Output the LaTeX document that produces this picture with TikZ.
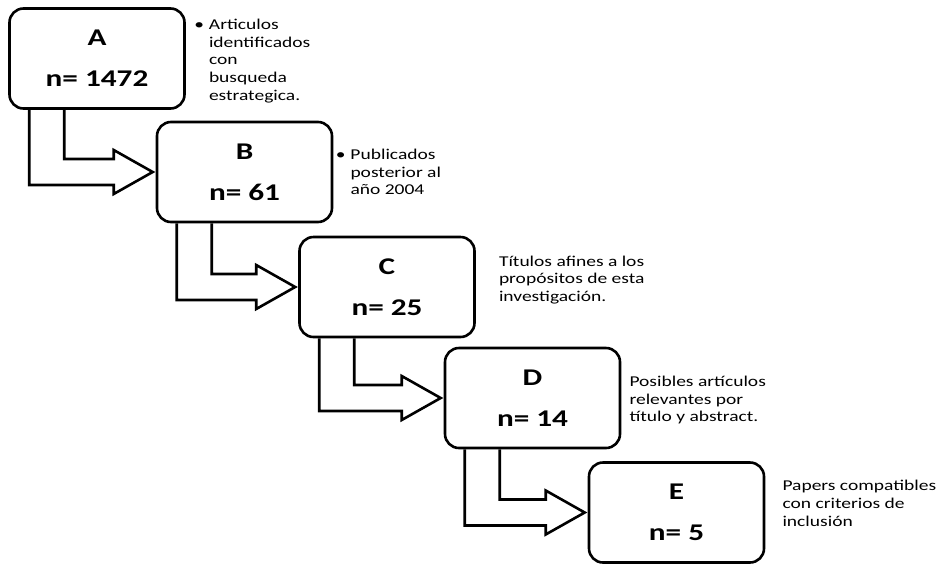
\documentclass[tikz,border=0pt]{standalone}
\usepackage{fontspec}
\setmainfont{Carlito}[FakeStretch=1.3]
\usetikzlibrary{positioning,calc}
\begin{document}
\begin{tikzpicture}[x=1pt,y=1pt,
   caja/.style={draw,line width=2.6pt,rounded corners=14pt,minimum width=175pt,minimum height=100pt,
     align=center,font=\bfseries\fontsize{24}{41}\selectfont},
   nota/.style={inner sep=0pt,align=left,font=\fontsize{15}{17.8}\selectfont},
   flecha/.style={draw,line width=2.6pt,line join=miter}]
   \useasboundingbox (0,0) rectangle (941,-563);
   % cajas
   \node [caja] (A) at (97,-58.5) {A\\n= 1472};
   \node [caja] (B) at (244.5,-172) {B\\n= 61};
   \node [caja] (C) at (387,-287) {C\\n= 25};
   \node [caja] (D) at (532.5,-398) {D\\n= 14};
   \node [caja] (E) at (676.5,-512.5) {E\\n= 5};
   % notas
   \node [nota,right=23pt of A.east,yshift=-2.5pt] (nA) {\llap{\textbullet\hspace{5pt}}Articulos\\identificados\\con\\busqueda\\estrategica.};
   \node [nota,right=17pt of B.east] (nB) {\llap{\textbullet\hspace{5pt}}Publicados\\posterior al\\año 2004};
   \node [nota,right=23pt of C.east,yshift=7pt] (nC) {Títulos afines a los\\propósitos de esta\\investigación.};
   \node [nota,right=8pt of D.east,yshift=-2pt] (nD) {Posibles artículos\\relevantes por\\título y abstract.};
   \node [nota,right=17pt of E.east,yshift=9pt] (nE) {Papers compatibles\\con criterios de\\inclusión};
   % flechas
   \foreach \s/\t in {A/B,B/C,C/D,D/E}
     \draw [flecha] let \p1=(\s.south west), \p2=($(\t.west)+(-3pt,0)$) in
       (\x1+21pt,\y1) -- (\x1+21pt,\y2-13pt) -- (\x2-39pt,\y2-13pt) -- (\x2-39pt,\y2-22pt) --
       (\p2) -- (\x2-39pt,\y2+22pt) -- (\x2-39pt,\y2+13pt) -- (\x1+56pt,\y2+13pt) -- (\x1+56pt,\y1);
\end{tikzpicture}
\end{document}
